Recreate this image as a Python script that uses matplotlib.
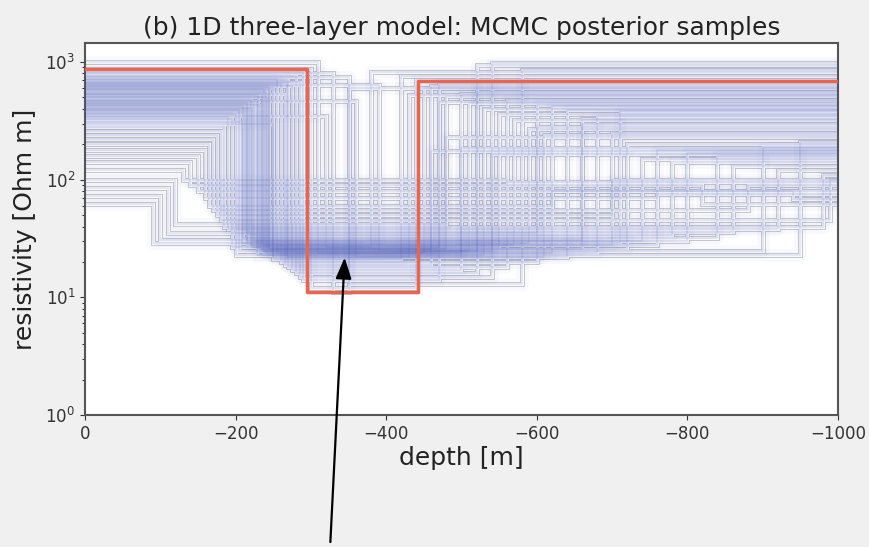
import numpy as np
import matplotlib
matplotlib.use("Agg")
import matplotlib.pyplot as plt

# true three-layer model (red)
true_rho = [870, 11, 690]
true_depth = [-295, -442]

# hand-read posterior samples: layer resistivities and interface depths
rho1 = [880, 820, 760, 700, 650, 600, 560, 520, 480, 450,
        420, 390, 360, 330, 300, 540, 620, 680, 740, 800,
        1000, 580, 500, 440, 400, 370, 340, 280, 260, 240,
        220, 200, 180, 160, 140, 120, 100, 85, 72, 62,
        640, 470, 350, 720, 610, 530, 460, 410, 380, 310,
        660, 590, 430, 500]
depth1 = [-300, -290, -280, -270, -260, -250, -240, -230, -220, -215,
          -210, -205, -200, -195, -250, -265, -275, -285, -350, -330,
          -310, -245, -235, -225, -218, -212, -190, -185, -180, -175,
          -170, -165, -160, -150, -140, -130, -120, -110, -100, -90,
          -390, -360, -320, -255, -245, -235, -228, -222, -215, -208,
          -268, -238, -232, -242]
rho2 = [12, 14, 16, 18, 20, 22, 24, 26, 28, 30,
        32, 25, 23, 27, 21, 19, 17, 15, 13, 11,
        24, 26, 28, 30, 34, 36, 38, 40, 45, 50,
        55, 60, 70, 80, 90, 100, 42, 35, 31, 29,
        25, 22, 27, 24, 26, 25, 23, 27, 28, 29,
        22, 24, 26, 25]
depth2 = [-440, -470, -520, -560, -600, -640, -680, -720, -760, -800,
          -840, -900, -950, -380, -420, -460, -500, -540, -580, -350,
          -620, -660, -700, -740, -780, -860, -920, -980, -990, -700,
          -880, -620, -760, -940, -820, -560, -480, -600, -660, -710,
          -520, -430, -470, -450, -480, -510, -530, -550, -570, -590,
          -610, -500, -460, -540]
rho3 = [700, 650, 560, 480, 430, 390, 350, 200, 180, 170,
        160, 190, 210, 820, 760, 620, 540, 980, 860, 600,
        420, 300, 250, 150, 140, 130, 120, 110, 100, 100,
        90, 80, 75, 68, 62, 95, 230, 280, 330, 380,
        950, 520, 460, 600, 510, 450, 400, 360, 320, 270,
        240, 185, 175, 165]


def step_path(r1, d1, r2, d2, r3):
    xs = [0, d1, d1, d2, d2, -1000]
    ys = [r1, r1, r2, r2, r3, r3]
    return xs, ys


fig = plt.figure(figsize=(8.69, 5.47), dpi=100, facecolor="#f0f0f0")
ax = fig.add_axes([0.0978, 0.2413, 0.8665, 0.680])
ax.set_facecolor("white")

paths = [step_path(*s) for s in zip(rho1, depth1, rho2, depth2, rho3)]

# grey outline of the sample cloud, white fill, then the faint blue samples
for xs, ys in paths:
    ax.plot(xs, ys, color="#c2c2c2", lw=3.4, zorder=1, solid_joinstyle="miter")
for xs, ys in paths:
    ax.plot(xs, ys, color="white", lw=2.2, zorder=2, solid_joinstyle="miter")
for xs, ys in paths:
    ax.plot(xs, ys, color="#5060c0", lw=9, alpha=0.035, zorder=3)
    ax.plot(xs, ys, color="#3848b0", lw=1.2, alpha=0.12, zorder=3)

tx, ty = step_path(true_rho[0], true_depth[0], true_rho[1], true_depth[1], true_rho[2])
ax.plot(tx, ty, color="#e8654f", lw=2.5, zorder=4)

ax.set_yscale("log")
ax.set_xlim(0, -1000)
ax.set_ylim(1, 1450)
ax.set_xticks([0, -200, -400, -600, -800, -1000])
ax.tick_params(labelsize=12, colors="#333333")
for sp in ax.spines.values():
    sp.set_color("#555555")
    sp.set_linewidth(1.5)

ax.set_title("(b) 1D three-layer model: MCMC posterior samples", fontsize=18, color="#222222")
ax.set_xlabel("depth [m]", fontsize=18, color="#222222", labelpad=2)
ax.set_ylabel("resistivity [Ohm m]", fontsize=18, color="#222222", labelpad=6)

ax.annotate("", xy=(-345, 23), xycoords="data",
            xytext=(0.380, 0.004), textcoords="figure fraction",
            arrowprops=dict(arrowstyle="-|>,head_length=0.4,head_width=0.15",
                            mutation_scale=32, color="black", lw=1.6),
            annotation_clip=False, zorder=6)

fig.savefig("out.png", dpi=100, facecolor=fig.get_facecolor())
